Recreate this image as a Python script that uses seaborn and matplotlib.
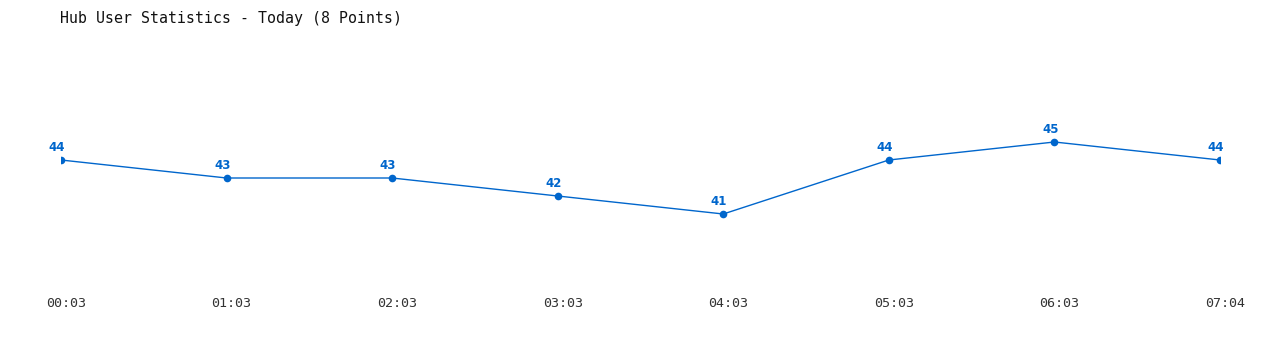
import matplotlib
matplotlib.use("Agg")
import matplotlib.pyplot as plt
import matplotlib.transforms as mtransforms
import seaborn as sns
import pandas as pd

times = ["00:03", "01:03", "02:03", "03:03", "04:03", "05:03", "06:03", "07:04"]
users = [44, 43, 43, 42, 41, 44, 45, 44]
title = "Hub User Statistics - Today (8 Points)"

sns.set_theme(style="white")
plt.rcParams['font.family'] = ['DejaVu Sans Mono', 'DejaVu Sans']

df = pd.DataFrame({"idx": range(len(times)), "users": users})
color = "#0066CC"

fig = plt.figure(figsize=(12.8, 3.5), dpi=100)
ax = fig.add_axes([61 / 1280, 82 / 350, 1159 / 1280, 180 / 350])
sns.lineplot(data=df, x="idx", y="users", ax=ax, color=color, linewidth=1.0,
             marker="o", markersize=5.5, markeredgewidth=0, markerfacecolor=color)
ax.set_xlim(0, 7)
ax.set_ylim(38, 48)
for i, v in enumerate(users):
    ax.annotate(str(v), (i, v), xytext=(-3, 4.5), textcoords="offset points",
                ha="center", va="bottom", fontsize=8.5, fontweight="bold",
                color=color, family="DejaVu Sans")
ax.set_xticks(range(len(times)))
ax.set_xticklabels(times, fontsize=9.6, color="#333333")
ax.tick_params(axis="x", length=0, pad=21)
offset = mtransforms.ScaledTranslation(5 / 100, 0, fig.dpi_scale_trans)
for lbl in ax.get_xticklabels():
    lbl.set_transform(lbl.get_transform() + offset)
ax.set_yticks([])
ax.set_xlabel("")
ax.set_ylabel("")
for s in ax.spines.values():
    s.set_visible(False)
fig.text(60 / 1280, 1 - 18 / 350, title, fontsize=10.7, color="#111111",
         ha="left", va="center")
fig.savefig("out.png", dpi=100)
